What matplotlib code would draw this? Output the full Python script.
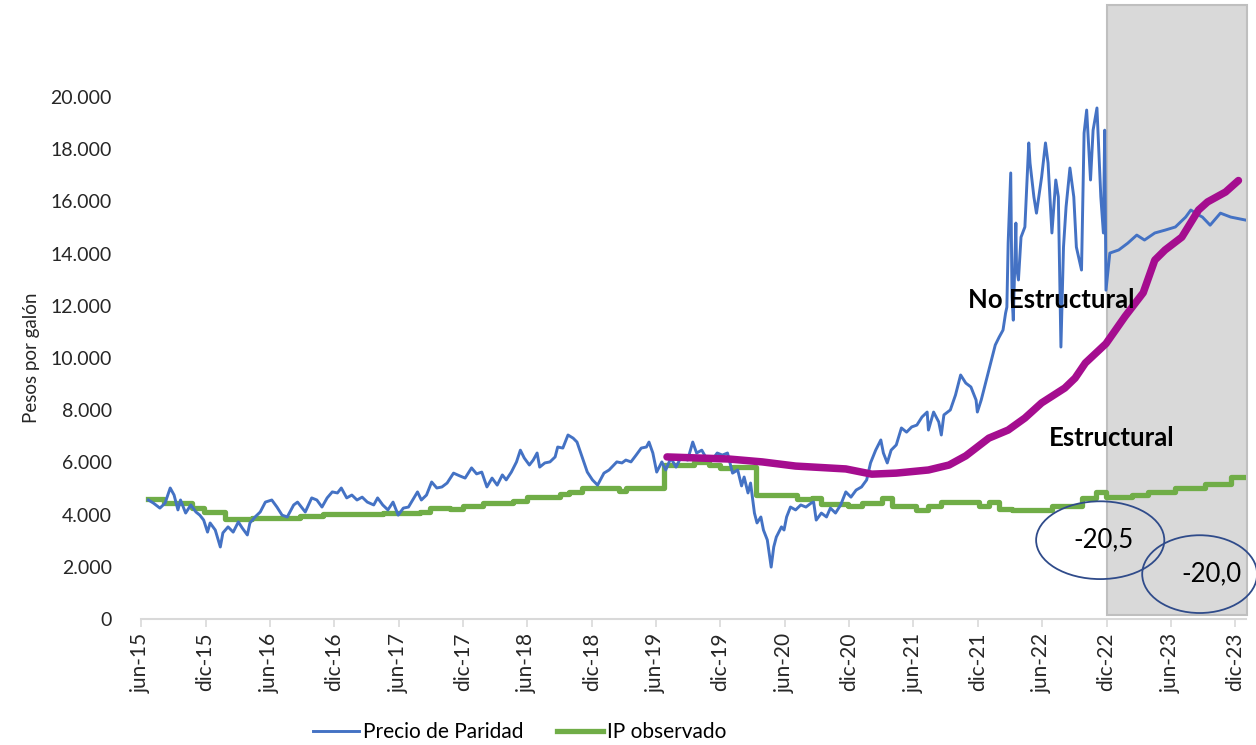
import matplotlib
matplotlib.use('Agg')
import matplotlib.pyplot as plt
import matplotlib.transforms as mtransforms
import matplotlib.dates as mdates
from matplotlib.patches import Ellipse, Rectangle
import pandas as pd

plt.rcParams['font.family'] = ['Lato', 'DejaVu Sans']

# (decimal year, pesos/galon)
paridad = [
    (2015.47, 4560), (2015.51, 4440), (2015.56, 4250), (2015.60, 4440), (2015.64, 5020),
    (2015.67, 4750), (2015.70, 4180), (2015.72, 4560), (2015.76, 4060), (2015.80, 4370),
    (2015.84, 4100), (2015.87, 3980), (2015.90, 3790), (2015.93, 3330), (2015.95, 3680),
    (2015.99, 3410), (2016.03, 2760), (2016.05, 3300), (2016.09, 3530), (2016.13, 3330),
    (2016.17, 3720), (2016.20, 3490), (2016.24, 3220), (2016.26, 3680), (2016.30, 3910),
    (2016.34, 4100), (2016.38, 4480), (2016.43, 4560), (2016.47, 4290), (2016.51, 3980),
    (2016.55, 3910), (2016.60, 4370), (2016.63, 4480), (2016.69, 4100), (2016.74, 4640),
    (2016.78, 4560), (2016.82, 4290), (2016.86, 4640), (2016.90, 4870), (2016.94, 4830),
    (2016.97, 5020), (2017.01, 4640), (2017.05, 4750), (2017.09, 4560), (2017.13, 4670),
    (2017.17, 4480), (2017.22, 4370), (2017.25, 4640), (2017.29, 4370), (2017.33, 4180),
    (2017.37, 4480), (2017.41, 3980), (2017.45, 4250), (2017.49, 4290), (2017.56, 4870),
    (2017.59, 4560), (2017.63, 4750), (2017.67, 5250), (2017.71, 5020), (2017.75, 5060),
    (2017.79, 5210), (2017.84, 5590), (2017.89, 5480), (2017.93, 5400), (2017.98, 5790),
    (2018.02, 5560), (2018.06, 5630), (2018.10, 5060), (2018.14, 5400), (2018.18, 5130),
    (2018.22, 5520), (2018.25, 5330), (2018.29, 5630), (2018.33, 6020), (2018.36, 6470),
    (2018.39, 6170), (2018.43, 5900), (2018.46, 6090), (2018.49, 6360), (2018.51, 5820),
    (2018.55, 5980), (2018.59, 6020), (2018.63, 6210), (2018.65, 6590), (2018.69, 6550),
    (2018.73, 7050), (2018.77, 6930), (2018.80, 6780), (2018.84, 6210), (2018.88, 5630),
    (2018.92, 5330), (2018.96, 5130), (2019.01, 5590), (2019.05, 5710), (2019.11, 6020),
    (2019.15, 5980), (2019.18, 6090), (2019.22, 6020), (2019.26, 6280), (2019.30, 6550),
    (2019.34, 6590), (2019.36, 6780), (2019.39, 6360), (2019.42, 5630), (2019.46, 6020),
    (2019.49, 5710), (2019.53, 6170), (2019.57, 5820), (2019.61, 6210), (2019.66, 6090),
    (2019.70, 6780), (2019.73, 6360), (2019.77, 6470), (2019.80, 6210), (2019.85, 6090),
    (2019.89, 6360), (2019.93, 6280), (2019.97, 6360), (2020.01, 5590), (2020.05, 5710),
    (2020.08, 5100), (2020.10, 5440), (2020.13, 4830), (2020.15, 5210), (2020.18, 4060),
    (2020.20, 3680), (2020.23, 3910), (2020.25, 3410), (2020.28, 3030), (2020.31, 1990),
    (2020.33, 2760), (2020.35, 3140), (2020.39, 3530), (2020.41, 3410), (2020.43, 3910),
    (2020.46, 4290), (2020.50, 4180), (2020.54, 4370), (2020.58, 4290), (2020.62, 4440),
    (2020.64, 4480), (2020.66, 3790), (2020.70, 4060), (2020.74, 3910), (2020.77, 4250),
    (2020.81, 4060), (2020.85, 4370), (2020.89, 4870), (2020.93, 4670), (2020.97, 4940),
    (2021.01, 5060), (2021.05, 5330), (2021.08, 5980), (2021.12, 6470), (2021.16, 6860),
    (2021.18, 6360), (2021.21, 5980), (2021.24, 6470), (2021.28, 6670), (2021.32, 7320),
    (2021.36, 7160), (2021.40, 7360), (2021.44, 7430), (2021.48, 7740), (2021.52, 7930),
    (2021.53, 7240), (2021.57, 7930), (2021.61, 7550), (2021.63, 7050), (2021.65, 7820),
    (2021.70, 8010), (2021.74, 8580), (2021.78, 9350), (2021.82, 9040), (2021.86, 8890),
    (2021.90, 8390), (2021.91, 7930), (2021.94, 8390), (2021.98, 9160), (2022.02, 9920),
    (2022.05, 10500), (2022.08, 10800), (2022.11, 11070), (2022.13, 11720), (2022.14, 11950),
    (2022.15, 14400), (2022.17, 17090), (2022.18, 12340), (2022.19, 11450), (2022.21, 15170),
    (2022.215, 13490), (2022.23, 12990), (2022.25, 14630), (2022.28, 15020), (2022.31, 18240),
    (2022.32, 17470), (2022.35, 16170), (2022.37, 15550), (2022.41, 16930), (2022.44, 18240),
    (2022.46, 17470), (2022.49, 14790), (2022.52, 16820), (2022.54, 16170), (2022.56, 10420),
    (2022.58, 14250), (2022.60, 15790), (2022.63, 17280), (2022.66, 16170), (2022.68, 14250),
    (2022.72, 13370), (2022.74, 18620), (2022.76, 19500), (2022.79, 16820), (2022.81, 18730),
    (2022.84, 19580), (2022.87, 16170), (2022.89, 14790), (2022.90, 18730), (2022.91, 12600),
    (2022.94, 14020), (2023.01, 14140), (2023.08, 14400), (2023.15, 14710), (2023.21, 14520),
    (2023.29, 14790), (2023.37, 14900), (2023.45, 15020), (2023.53, 15400), (2023.57, 15670),
    (2023.63, 15480), (2023.66, 15400), (2023.72, 15090), (2023.80, 15550), (2023.88, 15400),
    (2023.99, 15290),
]

# step changes of the observed price (IP observado)
ip_obs = [
    (2015.47, 4600), (2015.59, 4440), (2015.81, 4250), (2015.90, 4100), (2016.07, 3830),
    (2016.28, 3870), (2016.65, 3950), (2016.83, 4020), (2017.29, 4060), (2017.58, 4100),
    (2017.66, 4250), (2017.81, 4210), (2017.91, 4330), (2018.07, 4440), (2018.30, 4520),
    (2018.41, 4670), (2018.67, 4790), (2018.74, 4870), (2018.84, 5020), (2019.13, 4900),
    (2019.18, 5020), (2019.48, 5900), (2019.71, 6020), (2019.83, 5900), (2019.91, 5790),
    (2020.01, 5820), (2020.19, 4750), (2020.51, 4600), (2020.63, 4640), (2020.70, 4400),
    (2020.91, 4330), (2021.01, 4440), (2021.17, 4640), (2021.25, 4330), (2021.43, 4180),
    (2021.53, 4330), (2021.63, 4480), (2021.92, 4330), (2022.00, 4480), (2022.08, 4210),
    (2022.18, 4180), (2022.49, 4330), (2022.72, 4640), (2022.83, 4870), (2022.91, 4670),
    (2023.11, 4750), (2023.24, 4870), (2023.45, 5020), (2023.68, 5170), (2023.88, 5440),
    (2023.99, 5440),
]

estructural = [
    (2019.50, 6210), (2019.98, 6130), (2020.24, 6020), (2020.50, 5860), (2020.89, 5750),
    (2021.09, 5550), (2021.28, 5590), (2021.53, 5710), (2021.69, 5900), (2021.82, 6250),
    (2022.00, 6930), (2022.15, 7240), (2022.28, 7700), (2022.41, 8280), (2022.59, 8850),
    (2022.67, 9230), (2022.75, 9810), (2022.91, 10550), (2023.06, 11600), (2023.20, 12500),
    (2023.29, 13750), (2023.37, 14140), (2023.50, 14630), (2023.63, 15670), (2023.70, 15980),
    (2023.84, 16360), (2023.94, 16800),
]

ellipse_labels = ['-20,5', '-20,0']
MESES = {6: 'jun', 12: 'dic'}


def to_dates(ts):
    out = []
    for t in ts:
        y = int(t)
        out.append(pd.Timestamp(year=y, month=1, day=1) + pd.Timedelta(days=(t - y) * 365.25))
    return out


fig = plt.figure(figsize=(12.56, 7.45), dpi=100)
ax = fig.add_axes([0.1123, 0.1691, 0.8798, 0.7007])

# shaded projection window
trans = mtransforms.blended_transform_factory(ax.transData, ax.transAxes)
x0 = mdates.date2num(pd.Timestamp('2022-12-01'))
x1 = mdates.date2num(pd.Timestamp('2024-01-04'))
ax.add_patch(Rectangle((x0, 0.008), x1 - x0, 1.168, transform=trans, facecolor='#d9d9d9',
                       edgecolor='#bfbfbf', lw=1.5, clip_on=False, zorder=0))

bt, bv = zip(*paridad)
gt, gv = zip(*ip_obs)
et, ev = zip(*estructural)

ax.plot(to_dates(gt), gv, color='#70ad47', lw=3.8, drawstyle='steps-post',
        label='IP observado', zorder=2)
ax.plot(to_dates(bt), bv, color='#4472c4', lw=2.1, label='Precio de Paridad', zorder=3)
ax.plot(to_dates(et), ev, color='#a50d8f', lw=5.4, solid_capstyle='round', zorder=4)

# axes styling
ticks = pd.date_range('2015-06-01', '2023-12-01', freq='6MS')
ax.set_xticks(ticks)
ax.set_xticklabels([f"{MESES[d.month]}-{d.strftime('%y')}" for d in ticks], rotation=90,
                   fontsize=15, color='#262626')
ax.set_xlim(pd.Timestamp('2015-06-01'), pd.Timestamp('2024-01-01'))
ax.set_ylim(0, 20000)
ax.set_yticks(range(0, 20001, 2000))
ax.set_yticklabels([f"{v:,}".replace(',', '.') for v in range(0, 20001, 2000)],
                   fontsize=14, color='#262626')
ax.tick_params(axis='y', length=0, pad=21)
ax.tick_params(axis='x', length=6, color='#d9d9d9', width=1.2, pad=4)
for s in ['top', 'right', 'left']:
    ax.spines[s].set_visible(False)
ax.spines['bottom'].set_color('#d9d9d9')
ax.spines['bottom'].set_linewidth(1.5)
ax.set_ylabel('Pesos por galón', fontsize=13.5, color='#262626')
ax.yaxis.set_label_coords(-0.0914, 0.5)

# annotations
ax.text(0.824, 0.611, 'No Estructural', transform=ax.transAxes, fontsize=18.5,
        fontweight='bold', ha='center', va='center', zorder=5)
ax.text(0.878, 0.347, 'Estructural', transform=ax.transAxes, fontsize=18.5,
        fontweight='bold', ha='center', va='center', zorder=5)

ell_pos = [(0.868, 0.151, 0.116), (0.958, 0.086, 0.104)]
txt_pos = [(0.871, 0.151), (0.969, 0.086)]
for (cx, cy, w), (tx, ty), lab in zip(ell_pos, txt_pos, ellipse_labels):
    ax.add_patch(Ellipse((cx, cy), w, 0.149, transform=ax.transAxes, fill=False,
                         edgecolor='#2f4b8a', lw=1.3, clip_on=False, zorder=5))
    ax.text(tx, ty, lab, transform=ax.transAxes, fontsize=18.5, ha='center', va='center',
            zorder=6)

handles, labels = ax.get_legend_handles_labels()
fig.legend(handles[::-1], labels[::-1], loc='center', bbox_to_anchor=(0.414, 0.017), ncol=2,
           frameon=False, fontsize=15, handlelength=2.2, columnspacing=1.6, handletextpad=0.2)

fig.savefig('out.png', dpi=100)
